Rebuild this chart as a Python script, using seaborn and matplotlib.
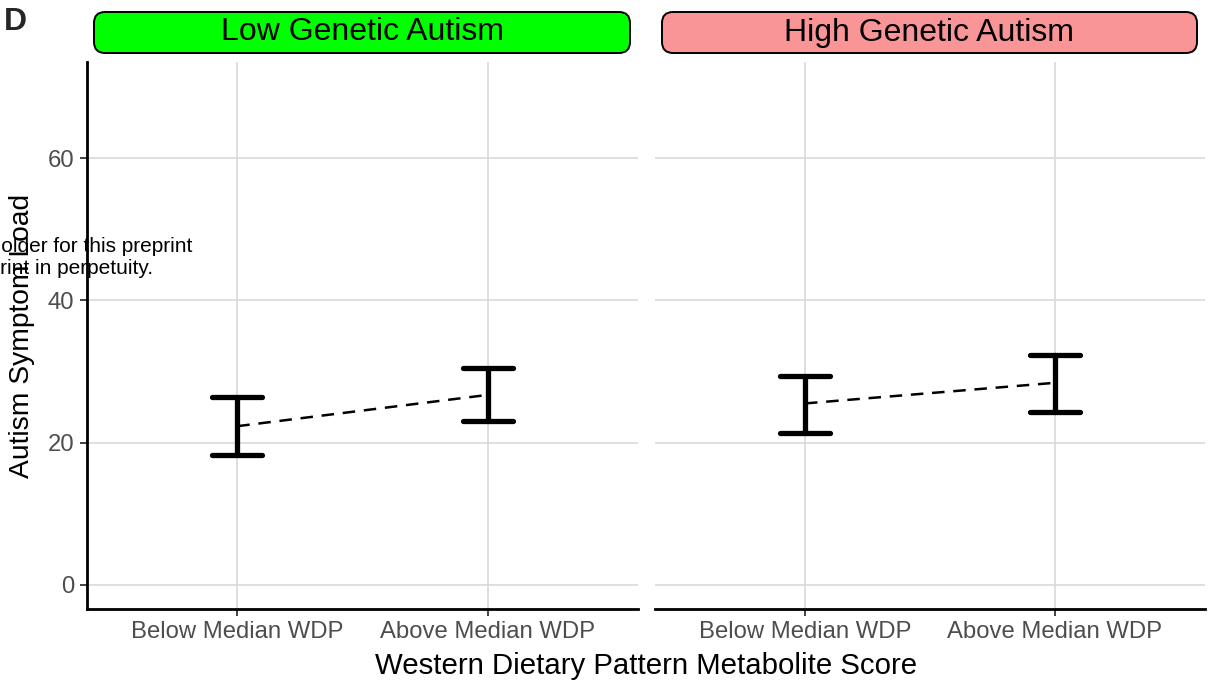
import numpy as np
import pandas as pd
import matplotlib
matplotlib.use("Agg")
import matplotlib.pyplot as plt
from matplotlib.patches import FancyBboxPatch
import seaborn as sns

# ── Data ──────────────────────────────────────────────────────────────────────
GROUPS     = ["Low Genetic Autism", "High Genetic Autism"]
WDP_LEVELS = ["Below Median WDP", "Above Median WDP"]
STRIP_COLS = ["#00FF00", "#F99497"]

LOW_MEAN  = [22.3, 26.7]
LOW_LOWER = [18.3, 23.0]
LOW_UPPER = [26.4, 30.5]

HIGH_MEAN  = [25.5, 28.4]
HIGH_LOWER = [21.4, 24.3]
HIGH_UPPER = [29.4, 32.3]

Y_TICKS = [0, 20, 40, 60]

# long table: lower / mean / upper per cell -> median = mean, 100% interval = CI
rows = []
for grp, lo, mu, hi in [(GROUPS[0], LOW_LOWER, LOW_MEAN, LOW_UPPER),
                        (GROUPS[1], HIGH_LOWER, HIGH_MEAN, HIGH_UPPER)]:
    for i, lvl in enumerate(WDP_LEVELS):
        for v in (lo[i], mu[i], hi[i]):
            rows.append({"group": grp, "wdp": lvl, "score": v})
df = pd.DataFrame(rows)

# ── Style ─────────────────────────────────────────────────────────────────────
sns.set_theme(style="white")
plt.rcParams["font.family"] = ["Liberation Sans", "DejaVu Sans"]

fig = plt.figure(figsize=(12.11, 6.88), dpi=100)
ax1 = fig.add_axes([87 / 1211, 1 - 609 / 688, 551 / 1211, 547 / 688])
ax2 = fig.add_axes([655 / 1211, 1 - 609 / 688, 550 / 1211, 547 / 688])

for ax, grp, col in zip([ax1, ax2], GROUPS, STRIP_COLS):
    sub = df[df["group"] == grp]
    sns.pointplot(data=sub, x="wdp", y="score", order=WDP_LEVELS,
                  estimator=np.median, errorbar=("pi", 100),
                  color="black", marker="", linestyle=(0, (5, 3.5)),
                  linewidth=1.8, capsize=0.2,
                  err_kws={"linewidth": 3.8, "linestyle": "-"}, ax=ax)
    ax.set_xlim(-0.6, 1.6)
    ax.set_ylim(-3.4, 73.5)
    ax.set_yticks(Y_TICKS)
    ax.grid(True, color="#D9D9D9", linewidth=1.2)
    ax.set_axisbelow(True)
    ax.set_xlabel("")
    ax.set_ylabel("")
    for s in ["top", "right"]:
        ax.spines[s].set_visible(False)
    ax.spines["bottom"].set_color("black")
    ax.spines["bottom"].set_linewidth(2)
    ax.tick_params(axis="x", length=5, width=1.3, color="#333333",
                   labelsize=17.2, labelcolor="#4D4D4D", pad=4, bottom=True)

    # facet strip with rounded corners
    x0 = (ax.get_position().x0 * 1211 + 7) / 100
    w = (ax.get_position().width * 1211 - 15) / 100
    strip = FancyBboxPatch((x0, 6.35), w, 0.41,
                           boxstyle="round,pad=0,rounding_size=0.11",
                           transform=fig.dpi_scale_trans, facecolor=col,
                           edgecolor="black", linewidth=1.4, clip_on=False)
    fig.add_artist(strip)
    fig.text(x0 + w / 2, 6.555, grp, transform=fig.dpi_scale_trans,
             ha="center", va="center", fontsize=23, color="black")

ax1.spines["left"].set_color("black")
ax1.spines["left"].set_linewidth(2)
ax1.tick_params(axis="y", length=5, width=1.3, color="#333333",
                labelsize=17.2, labelcolor="#4D4D4D", pad=4, left=True)
ax1.set_ylabel("Autism Symptom Load", fontsize=20.3, color="black")
ax1.yaxis.set_label_coords(-0.095, 0.5)

ax2.spines["left"].set_visible(False)
ax2.tick_params(axis="y", left=False, labelleft=False)

fig.text(6.46, 0.14, "Western Dietary Pattern Metabolite Score",
         transform=fig.dpi_scale_trans, ha="center", va="baseline",
         fontsize=21.2, color="black")

fig.text(0.04, 6.585, "D", transform=fig.dpi_scale_trans, ha="left",
         va="baseline", fontsize=23, fontweight="bold")

# preprint watermark fragments, clipped by the left edge
fig.text(1.92, 4.36, "copyright holder for this preprint",
         transform=fig.dpi_scale_trans, ha="right", va="baseline",
         fontsize=15, color="black")
fig.text(1.53, 4.14, "display the preprint in perpetuity.",
         transform=fig.dpi_scale_trans, ha="right", va="baseline",
         fontsize=15, color="black")

fig.savefig("out.png", dpi=100)
